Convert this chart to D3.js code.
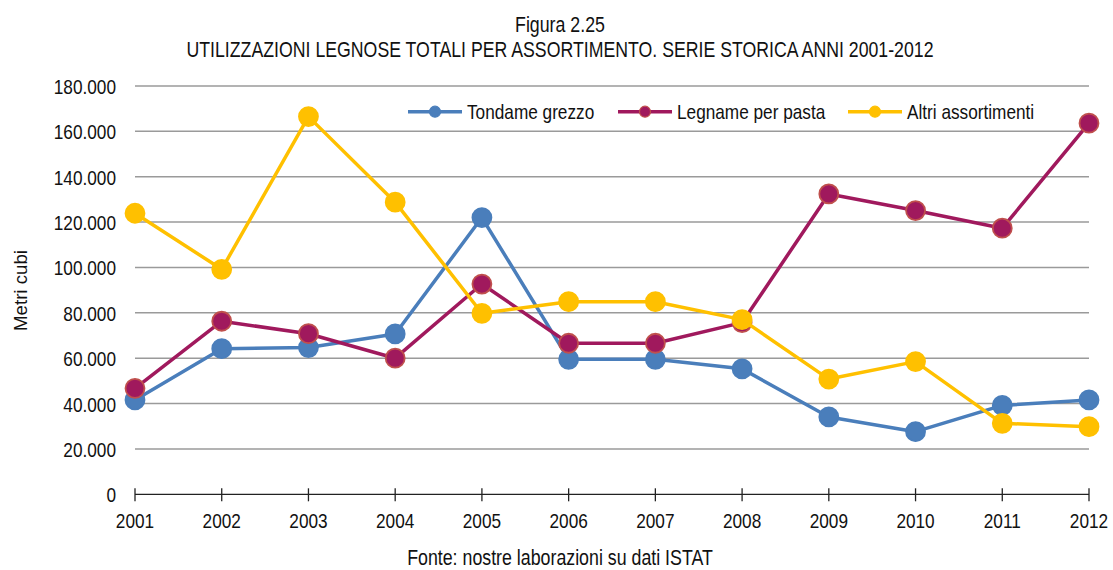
<!DOCTYPE html>
<html>
<head>
<meta charset="utf-8">
<script src="https://cdn.jsdelivr.net/npm/d3@7"></script>
<style>
  html, body { margin: 0; padding: 0; background: #fff; }
  svg text { font-family: "Liberation Sans", Arial, sans-serif; fill: #111; }
</style>
</head>
<body>
<svg id="chart" width="1113" height="570"></svg>
<script>
const years = ["2001", "2002", "2003", "2004", "2005", "2006", "2007", "2008", "2009", "2010", "2011", "2012"];
const tondame = [41600, 64200, 64700, 70700, 122000, 59500, 59500, 55300, 34100, 27600, 39200, 41600];
const legnamePasta = [46700, 76300, 70800, 60000, 92700, 66600, 66600, 75700, 132400, 125100, 117300, 163600];
const altri = [123900, 99200, 166500, 128800, 79800, 84900, 84900, 77000, 50800, 58500, 31300, 29800];
const seriesNames = ["Tondame grezzo", "Legname per pasta", "Altri assortimenti"];
const yTicks = [0, 20000, 40000, 60000, 80000, 100000, 120000, 140000, 160000, 180000];

const colors = ["#4a7ebb", "#a0195d", "#ffc000"];
const strokes = ["#4a7ebb", "#c0504d", "#ffc000"];
const series = [tondame, legnamePasta, altri].map((vals, i) => ({
  name: seriesNames[i],
  color: colors[i],
  stroke: strokes[i],
  values: vals.map((v, j) => ({ year: years[j], value: v }))
}));

// narrow look: Liberation Sans squeezed horizontally
const narrow = 0.82;

const svg = d3.select("#chart");

const x = d3.scalePoint().domain(years).range([135, 1089]);
const y = d3.scaleLinear().domain([0, 180000]).range([494.3, 86]);
const fmt = (d) => (d === 0 ? "0" : d3.format(",")(d).replace(/,/g, "."));

function label(parent, px, py, txt, size, anchor, rot, sx) {
  return parent.append("text")
    .attr("transform", `translate(${px},${py})${rot ? " rotate(" + rot + ")" : ""} scale(${sx || narrow},1)`)
    .attr("text-anchor", anchor || "start")
    .style("font-size", size + "px")
    .text(txt);
}

// titles
label(svg, 560, 31.5, "Figura 2.25", 21.7, "middle");
label(svg, 560, 56.5, "UTILIZZAZIONI LEGNOSE TOTALI PER ASSORTIMENTO. SERIE STORICA ANNI 2001-2012", 21.6, "middle");

// gridlines
svg.append("g")
  .selectAll("line")
  .data(yTicks.filter((d) => d > 0))
  .join("line")
  .attr("x1", x.range()[0])
  .attr("x2", x.range()[1])
  .attr("y1", (d) => y(d))
  .attr("y2", (d) => y(d))
  .attr("stroke", "#9a9a9a")
  .attr("stroke-width", 1.5);

// y labels
const yLab = svg.append("g");
yTicks.forEach((d) => label(yLab, 116, y(d) + 8, fmt(d), 21, "end"));

label(svg, 27, 290.5, "Metri cubi", 18.7, "middle", -90, 1);

// x axis
const xAxis = svg.append("g").attr("transform", `translate(0,${y(0)})`);
xAxis.append("line").attr("x1", x.range()[0]).attr("x2", x.range()[1])
  .attr("stroke", "#222").attr("stroke-width", 1.3);
xAxis.selectAll("line.tick")
  .data(years)
  .join("line")
  .attr("class", "tick")
  .attr("x1", (d) => x(d)).attr("x2", (d) => x(d))
  .attr("y1", -6).attr("y2", 7)
  .attr("stroke", "#222").attr("stroke-width", 1.3);
years.forEach((d) => label(xAxis, x(d), 34, d, 21, "middle"));

// lines + markers
const line = d3.line().x((d) => x(d.year)).y((d) => y(d.value));
series.forEach((s) => {
  const g = svg.append("g");
  g.append("path")
    .datum(s.values)
    .attr("d", line)
    .attr("fill", "none")
    .attr("stroke", s.color)
    .attr("stroke-width", 3.5)
    .attr("stroke-linejoin", "round");
  g.selectAll("circle")
    .data(s.values)
    .join("circle")
    .attr("cx", (d) => x(d.year))
    .attr("cy", (d) => y(d.value))
    .attr("r", 9.5)
    .attr("fill", s.color)
    .attr("stroke", s.stroke)
    .attr("stroke-width", 1.8);
});

// legend
const legendX = [408, 618, 848];
series.forEach((s, i) => {
  const g = svg.append("g").attr("transform", `translate(${legendX[i]},111.7)`);
  g.append("line").attr("x1", 0).attr("x2", 54).attr("y1", 0).attr("y2", 0)
    .attr("stroke", s.color).attr("stroke-width", 3.5);
  g.append("circle").attr("cx", 27).attr("cy", 0).attr("r", 5.5)
    .attr("fill", s.color).attr("stroke", s.stroke).attr("stroke-width", 1.2);
  label(g, 59, 7.5, s.name, 21, "start");
});

label(svg, 560, 565, "Fonte: nostre laborazioni su dati ISTAT", 21.7, "middle");
</script>
</body>
</html>
